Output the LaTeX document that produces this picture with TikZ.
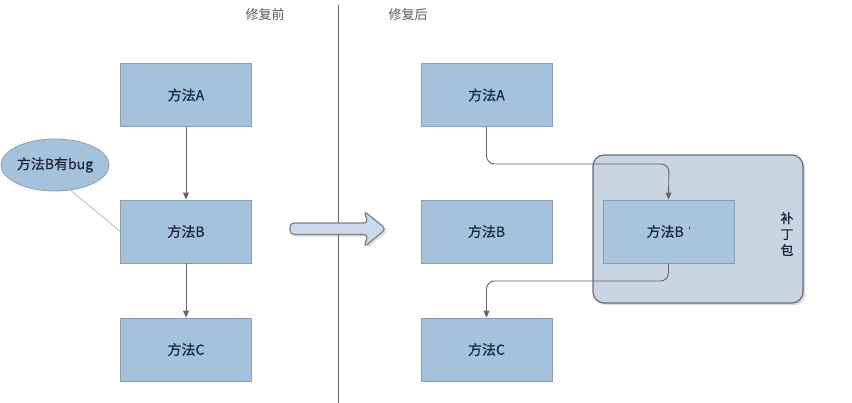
\documentclass[tikz,border=0pt]{standalone}
\usepackage{fontspec}
\newfontfamily\cjk{Noto Sans CJK SC}
\newfontfamily\cjkm[FakeBold=0.6]{Noto Sans CJK SC}
\usetikzlibrary{shapes.geometric,arrows.meta,shadows}
\definecolor{boxfill}{RGB}{165,194,220}
\definecolor{boxline}{RGB}{140,158,176}
\definecolor{patchfill}{RGB}{201,213,226}
\definecolor{patchline}{RGB}{105,110,116}
\definecolor{txt}{RGB}{28,40,58}

\begin{document}
\begin{tikzpicture}[x=1pt,y=-1pt]
\tikzset{method/.style = {rectangle, fill=boxfill, draw=boxline, line width=0.8pt, minimum width=131pt, minimum height=63pt, font=\cjkm\fontsize{14}{16}\selectfont, text=txt}}
\tikzset{link/.style = {draw=black!60, line width=0.9pt, -{Triangle[length=7pt,width=6pt]}}}
\tikzset{title/.style = {font=\cjk\fontsize{13}{15}\selectfont, text=black!65}}
\useasboundingbox (0,0) rectangle (852,403);

% before
\node[title] (t1) at (265,15) {修复前};

    \node[method] (a1) at (186,95) {方法A};
    \node[method] (b1) at (186,231.5) {方法B};
    \node[method] (c1) at (186,349.5) {方法C};

\draw[link] (a1) -- (b1);
\draw[link] (b1) -- (c1);

    \node[ellipse, fill=boxfill, draw=boxline, line width=0.8pt, minimum width=108pt, minimum height=52pt, inner sep=0pt, font=\cjkm\fontsize{14}{16}\selectfont, text=txt] (bug) at (55,165) {方法B有bug};
\draw[black!30, line width=0.7pt] (bug.-58) -- (b1.west);

% divider
\coordinate (top) at (338,5);
\coordinate (bot) at (338,403);
\draw[black!60, line width=0.9pt] (top) -- (bot);

% big arrow
\draw[fill=boxfill!60, draw=black!50, line width=1.2pt, rounded corners=4pt, drop shadow={opacity=0.25}]
  (290,223) -- (368,223) -- (364,211) -- (386,229) -- (364,247) -- (368,234.5) -- (290,234.5) -- cycle;

% after
\node[title] (t2) at (408,15) {修复后};

    \node[method] (a2) at (486.5,95) {方法A};
    \node[method] (b2) at (486.5,231.5) {方法B};
    \node[method] (c2) at (486.5,349.5) {方法C};

    \node[rectangle, rounded corners=11pt, fill=patchfill, draw=patchline, line width=1.2pt, minimum width=210pt, minimum height=148pt, drop shadow={opacity=0.3}] (patch) at (698,229) {};
    \node[font=\cjkm\fontsize{13}{16}\selectfont, text=txt, align=center] (plabel) at (787,234) {补\\丁\\包};
    \node[method, fill=boxfill!90!patchfill] (bp) at (668.5,231.5) {方法B\,\,\raisebox{0.6ex}{\scriptsize '}};

\coordinate (k1) at (669,164);
\coordinate (k2) at (486.5,281);
\draw[link, rounded corners=8pt] (a2.south) |- (k1) -- (bp.north);
\draw[link, rounded corners=8pt] (bp.south) |- (k2) -- (c2.north);

\end{tikzpicture}
\end{document}
